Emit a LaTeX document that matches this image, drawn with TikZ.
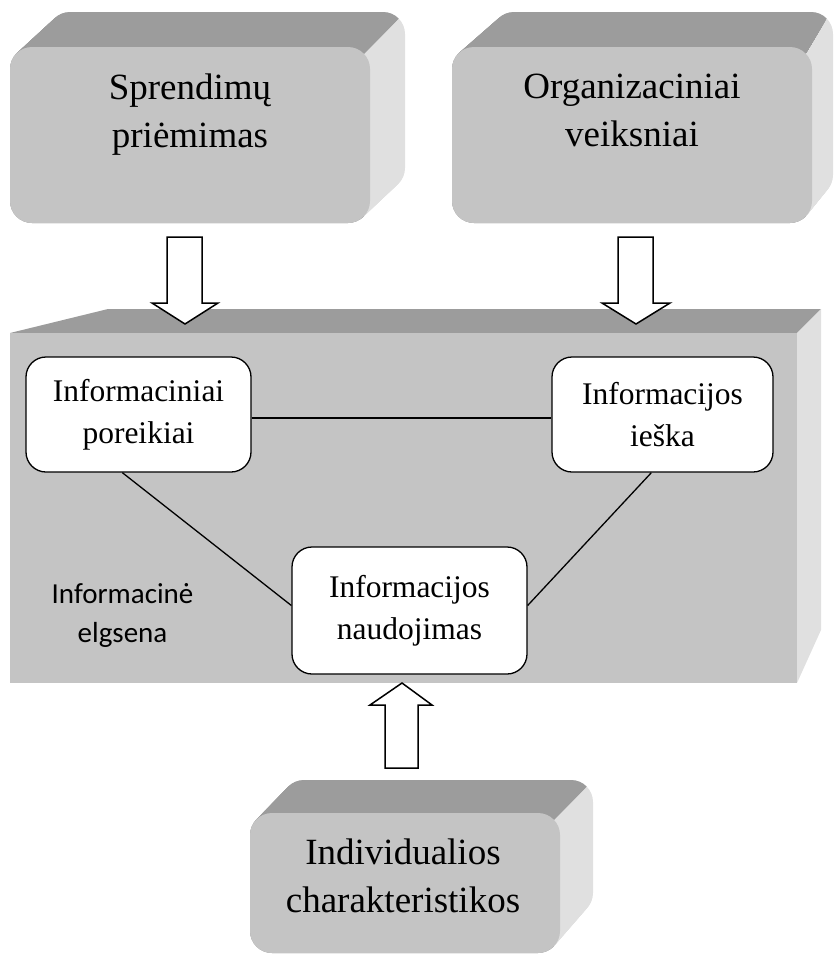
\documentclass[tikz,border=0pt]{standalone}
\usepackage{fontspec}
\setmainfont{Liberation Serif}
\newfontfamily\carlitofont{Carlito}
\definecolor{frontgray}{RGB}{196,196,196}
\definecolor{topgray}{RGB}{156,156,156}
\definecolor{sidegray}{RGB}{224,224,224}
% #1 x1, #2 y1, #3 x2, #4 y2 (front) ; #5 bx1, #6 by1, #7 bx2, #8 by2 (back) ; #9 radius
\newcommand\solidbox[9]{%
  \foreach \i in {0,...,40}{%
    \pgfmathsetmacro\tt{\i/40}%
    \fill[sidegray, rounded corners=#9pt]
      ({#1+\tt*(#5-#1)},{#2+\tt*(#6-#2)}) rectangle ({#3+\tt*(#7-#3)},{#4+\tt*(#8-#4)});
  }%
  \begin{scope}
    \clip ({#1-100},{#4+100}) -- ({#1-100},{#6-100})
      -- ({#3-0.29*#9+6*(#7-#3)},{#2+0.29*#9+6*(#6-#2)})
      -- ({#3-0.29*#9},{#2+0.29*#9}) -- ({#3-0.29*#9},{#4+100}) -- cycle;
    \foreach \i in {0,...,40}{%
      \pgfmathsetmacro\tt{\i/40}%
      \fill[topgray, rounded corners=#9pt]
        ({#1+\tt*(#5-#1)},{#2+\tt*(#6-#2)}) rectangle ({#3+\tt*(#7-#3)},{#4+\tt*(#8-#4)});
    }%
  \end{scope}
  \fill[frontgray, rounded corners=#9pt] (#1,#2) rectangle (#3,#4);
}
\begin{document}
\begin{tikzpicture}[x=1pt,y=-1pt,
  inbox/.style={draw=black, fill=white, rounded corners=20pt, line width=1.3pt,
    align=center, inner sep=0pt, font=\fontsize{31.5}{42}\selectfont},
  outtext/.style={align=center, inner sep=0pt, font=\fontsize{37}{48}\selectfont},
  lbl/.style={align=center, inner sep=0pt, font=\carlitofont\fontsize{29}{39}\selectfont},
  conn/.style={draw=black, line width=1.3pt},
  blockarrow/.style={draw=black, fill=white, line width=1.5pt, line join=miter}]
\useasboundingbox (0,0) rectangle (835,954);

% 3D boxes
\solidbox{10}{47}{370}{223}{48}{12}{405}{190}{22}
\solidbox{452}{47}{812}{223}{492}{12}{833}{197}{22}
\solidbox{250}{813}{560}{953}{282}{780}{593}{915}{22}

% big box
\fill[topgray] (10,333) -- (108,309) -- (821,309) -- (797,333) -- cycle;
\fill[sidegray] (797,333) -- (821,309) -- (821,630) -- (797,683) -- cycle;
\fill[frontgray] (10,333) rectangle (797,683);

% texts of 3D boxes
\node[outtext] (sp) at (190,115) {Sprendimų\\priėmimas};
\node[outtext] (org) at (632,110) {Organizaciniai\\veiksniai};
\node[outtext] (ind) at (403,876) {Individualios\\charakteristikos};

% inner nodes
\node[inbox, minimum width=225pt, minimum height=115pt] (por) at (138.5,414.5) {Informaciniai\\poreikiai};
\node[inbox, minimum width=221pt, minimum height=115pt] (ies) at (662.5,414.5) {Informacijos\\ieška};
\node[inbox, minimum width=235pt, minimum height=127pt] (naud) at (409.5,610.5) {Informacijos\\naudojimas};
\node[lbl] (elg) at (122.5,615) {Informacinė\\elgsena};

% connectors
\draw[conn] ([yshift=-3.5pt]por.east) -- ([yshift=-3.5pt]ies.west);
\draw[conn] ([xshift=97pt]por.south west) -- ([yshift=5pt]naud.west);
\draw[conn] ([xshift=100pt]ies.south west) -- ([yshift=5pt]naud.east);

% block arrows
\draw[blockarrow] (167,237) -- (202,237) -- (202,303) -- (218,303) -- (185,324) -- (152,303) -- (167,303) -- cycle;
\draw[blockarrow] (618,237) -- (653,237) -- (653,303) -- (670,303) -- (636,324) -- (602,303) -- (618,303) -- cycle;
\draw[blockarrow] (385,768) -- (418,768) -- (418,705) -- (432,705) -- (402,683) -- (370,705) -- (385,705) -- cycle;
\end{tikzpicture}
\end{document}
